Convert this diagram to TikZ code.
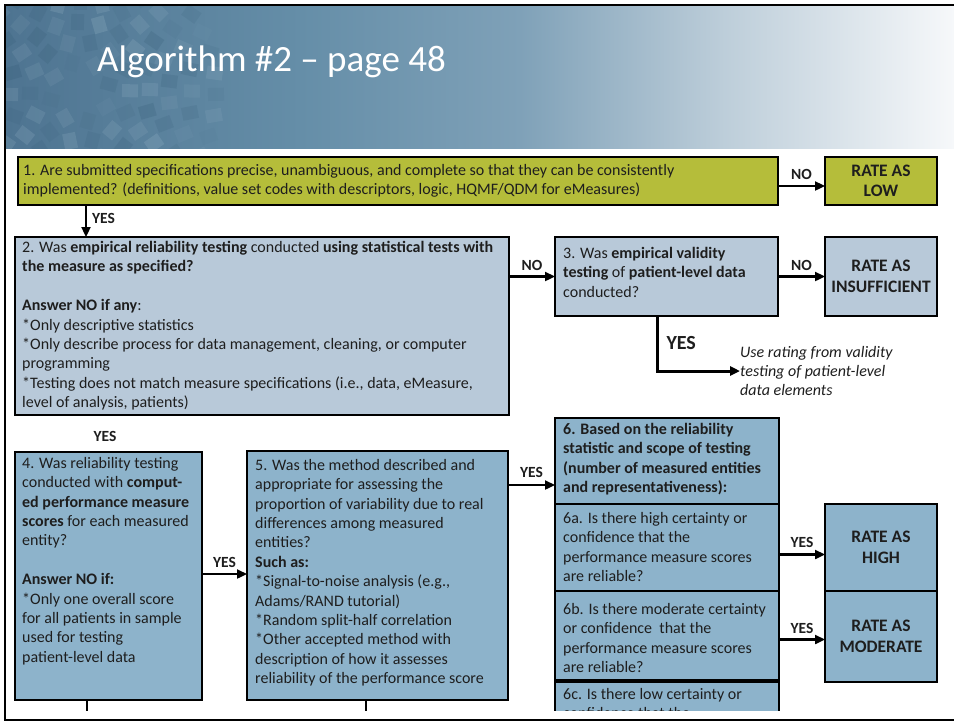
\documentclass[tikz,border=0pt]{standalone}
\usepackage{fontspec}
\setmainfont{Carlito}
\usetikzlibrary{arrows.meta,calc}

\definecolor{boxolive}{HTML}{B5BD3A}
\definecolor{boxgrey}{HTML}{B8C9D9}
\definecolor{boxblue}{HTML}{8DB3CB}
\definecolor{inktext}{HTML}{1E1E1E}
\definecolor{hA}{HTML}{4E7491}
\definecolor{hB}{HTML}{658EA8}
\definecolor{hC}{HTML}{7FA1B8}
\definecolor{hD}{HTML}{BCCDD9}
\definecolor{hE}{HTML}{F6F8FA}
\definecolor{tiledark}{HTML}{2F5670}
\definecolor{tilelight}{HTML}{A9C3D3}

\tikzset{
  box/.style={draw=black, line width=2.6pt, inner sep=0pt, outer sep=0pt, anchor=north west},
  ratebox/.style={box, align=center, text=inktext,
    font=\bfseries\fontsize{17.5}{20.5}\selectfont},
  txt/.style={inner sep=0pt, align=left, anchor=north west, text=inktext,
    font=\fontsize{16}{19.4}\selectfont},
  lbl/.style={inner sep=0pt, text=inktext, font=\bfseries\fontsize{15.5}{17}\selectfont},
  arr/.style={draw=black, line width=2.3pt, -{Triangle[length=10pt,width=9pt]}},
  note/.style={inner sep=0pt, align=left, text=inktext,
    font=\itshape\fontsize{16}{19.2}\selectfont},
}

\begin{document}
\begin{tikzpicture}[x=1pt,y=-1pt]
\useasboundingbox (0,0) rectangle (954,723);
\fill[white] (0,0) rectangle (954,723);

% title band with its tiled ring ornament
\begin{scope}
  \clip (6,6) rectangle (954,148);
  \shade[left color=hA, right color=hB] (6,6) rectangle (301,148);
  \shade[left color=hB, right color=hC] (300,6) rectangle (521,148);
  \shade[left color=hC, right color=hD] (520,6) rectangle (721,148);
  \shade[left color=hD, right color=hE] (720,6) rectangle (954,148);
  \foreach \r/\n/\base in {30/8/0.03, 50/14/0.07, 70/20/0.10, 90/26/0.09, 112/32/0.06, 136/40/0.04}{
    \foreach \i in {1,...,\n}{
      \pgfmathsetmacro\ang{360/\n*\i + \r}
      \pgfmathsetmacro\op{\base + 0.025*mod(\i*7+\r,5)}
      \pgfmathsetmacro\cx{80+\r*cos(\ang)}
      \pgfmathsetmacro\cy{92+\r*sin(\ang)}
      \ifodd\i
        \fill[tiledark, opacity=\op, shift={(\cx,\cy)}, rotate=\ang] (-8,-6.5) rectangle (8,6.5);
      \else
        \fill[tilelight, opacity=\op, shift={(\cx,\cy)}, rotate=\ang] (-8,-6.5) rectangle (8,6.5);
      \fi
    }
  }
\end{scope}
\node[anchor=west, inner sep=0pt, text=white, font=\fontsize{37}{42}\selectfont]
  (title) at (97,62) {Algorithm \#2 – page 48};

% slide frame
\draw[line width=2.2pt] (954,5) -- (5,5) -- (5,720) -- (954,720);

% row 1
\node[box, fill=boxolive, minimum width=760pt, minimum height=48pt] (b1) at (18,157) {};
\node[txt] (t1) at ([shift={(5pt,-7pt)}]b1.north west)
  {1. Are submitted specifications precise, unambiguous, and complete so that they can be consistently\\
   implemented? (definitions, value set codes with descriptors, logic, HQMF/QDM for eMeasures)};
\node[ratebox, fill=boxolive, minimum width=112pt, minimum height=48pt] (low) at (825,157) {RATE AS\\LOW};

% row 2
\node[box, fill=boxgrey, minimum width=494pt, minimum height=178pt] (b2) at (15,237) {};
\node[txt] (t2) at ([shift={(7pt,-4pt)}]b2.north west)
  {2. Was \textbf{empirical reliability testing} conducted \textbf{using statistical tests with}\\
   \textbf{the measure as specified?}\\[19.4pt]
   \textbf{Answer NO if any}:\\
   *Only descriptive statistics\\
   *Only describe process for data management, cleaning, or computer\\
   programming\\
   *Testing does not match measure specifications (i.e., data, eMeasure,\\
   level of analysis, patients)};
\node[box, fill=boxgrey, minimum width=223pt, minimum height=79pt] (b3) at (555,237) {};
\node[txt] (t3) at ([shift={(8pt,-10pt)}]b3.north west)
  {3. Was \textbf{empirical validity}\\
   \textbf{testing} of \textbf{patient-level data}\\
   conducted?};
\node[ratebox, fill=boxgrey, minimum width=112pt, minimum height=79pt] (ins) at (825,237) {RATE AS\\INSUFFICIENT};
\node[note, anchor=west] (use) at (740,371)
  {Use rating from validity\\testing of patient-level\\data elements};

\node[lbl] (yes2) at (105,436) {YES};

% row 3, cut off by the slide edge
\begin{scope}
  \clip (0,0) rectangle (954,710);
  \node[box, fill=boxblue, minimum width=187pt, minimum height=248pt] (b4) at (15,452) {};
  \node[txt] (t4) at ([shift={(7pt,-5pt)}]b4.north west)
    {4. Was reliability testing\\
     conducted with \textbf{comput-}\\
     \textbf{ed performance measure}\\
     \textbf{scores} for each measured\\
     entity?\\[19.4pt]
     \textbf{Answer NO if:}\\
     *Only one overall score\\
     for all patients in sample\\
     used for testing\\
     patient-level data};
  \node[box, fill=boxblue, minimum width=261pt, minimum height=249pt] (b5) at (247,451) {};
  \node[txt] (t5) at ([shift={(8pt,-8pt)}]b5.north west)
    {5. Was the method described and\\
     appropriate for assessing the\\
     proportion of variability due to real\\
     differences among measured\\
     entities?\\
     \textbf{Such as:}\\
     *Signal-to-noise analysis (e.g.,\\
     Adams/RAND tutorial)\\
     *Random split-half correlation\\
     *Other accepted method with\\
     description of how it assesses\\
     reliability of the performance score};
  \node[box, fill=boxblue, minimum width=224pt, minimum height=86pt] (b6) at (555,418) {};
  \node[txt, font=\bfseries\fontsize{16}{19.4}\selectfont] (t6) at ([shift={(8pt,-5pt)}]b6.north west)
    {6. Based on the reliability\\
     statistic and scope of testing\\
     (number of measured entities\\
     and representativeness):};
  \node[box, fill=boxblue, minimum width=224pt, minimum height=87pt] (b6a) at (555,504) {};
  \node[txt] (t6a) at ([shift={(8pt,-8pt)}]b6a.north west)
    {6a. Is there high certainty or\\
     confidence that the\\
     performance measure scores\\
     are reliable?};
  \node[box, fill=boxblue, minimum width=224pt, minimum height=89pt] (b6b) at (555,591) {};
  \node[txt] (t6b) at ([shift={(8pt,-12pt)}]b6b.north west)
    {6b. Is there moderate certainty\\
     or confidence~ that the\\
     performance measure scores\\
     are reliable?};
  \node[box, fill=boxblue, minimum width=224pt, minimum height=60pt] (b6c) at (555,682) {};
  \node[txt] (t6c) at ([shift={(8pt,-6pt)}]b6c.north west)
    {6c. Is there low certainty or\\
     confidence that the};
  \draw[line width=2.3pt] ([xshift=72pt]b4.south west) -- ++(0,12);
  \draw[line width=2.3pt] ([xshift=119pt]b5.south west) -- ++(0,12);
\end{scope}
\node[ratebox, fill=boxblue, minimum width=112pt, minimum height=87pt] (high) at (825,504) {RATE AS\\HIGH};
\node[ratebox, fill=boxblue, minimum width=112pt, minimum height=91pt] (mod) at (825,591) {RATE AS\\MODERATE};

% connectors
\draw[arr] ([yshift=-5pt]b1.east) -- ([yshift=-5pt]low.west)
  node[lbl, midway, above=5pt] {NO};
\draw[arr] ([xshift=68pt]b1.south west) -- ([xshift=68pt]b1.south west |- b2.north)
  node[lbl, midway, right=5pt, yshift=3pt] {YES};
\draw[arr] (b3.west -| b2.east) -- (b3.west)
  node[lbl, midway, above=5pt] {NO};
\draw[arr] (b3.east) -- (ins.west)
  node[lbl, midway, above=5pt] {NO};
\draw[arr, line width=3pt] ([xshift=102pt]b3.south west) |- (use.west)
  node[lbl, pos=0.25, right=8pt, font=\bfseries\fontsize{20}{22}\selectfont] {YES};
\draw[arr] (b4.east |- 0,574) -- (b5.west |- 0,574)
  node[lbl, midway, above=5pt] {YES};
\draw[arr] (b5.east |- 0,485) -- (b6.west |- 0,485)
  node[lbl, midway, above=6pt] {YES};
\draw[arr] ([yshift=-7pt]b6a.east) -- ([yshift=-7pt]b6a.east -| high.west)
  node[lbl, midway, above=6pt] {YES};
\draw[arr] ([yshift=-4pt]b6b.east) -- ([yshift=-4pt]b6b.east -| mod.west)
  node[lbl, midway, above=5pt] {YES};
\end{tikzpicture}
\end{document}
